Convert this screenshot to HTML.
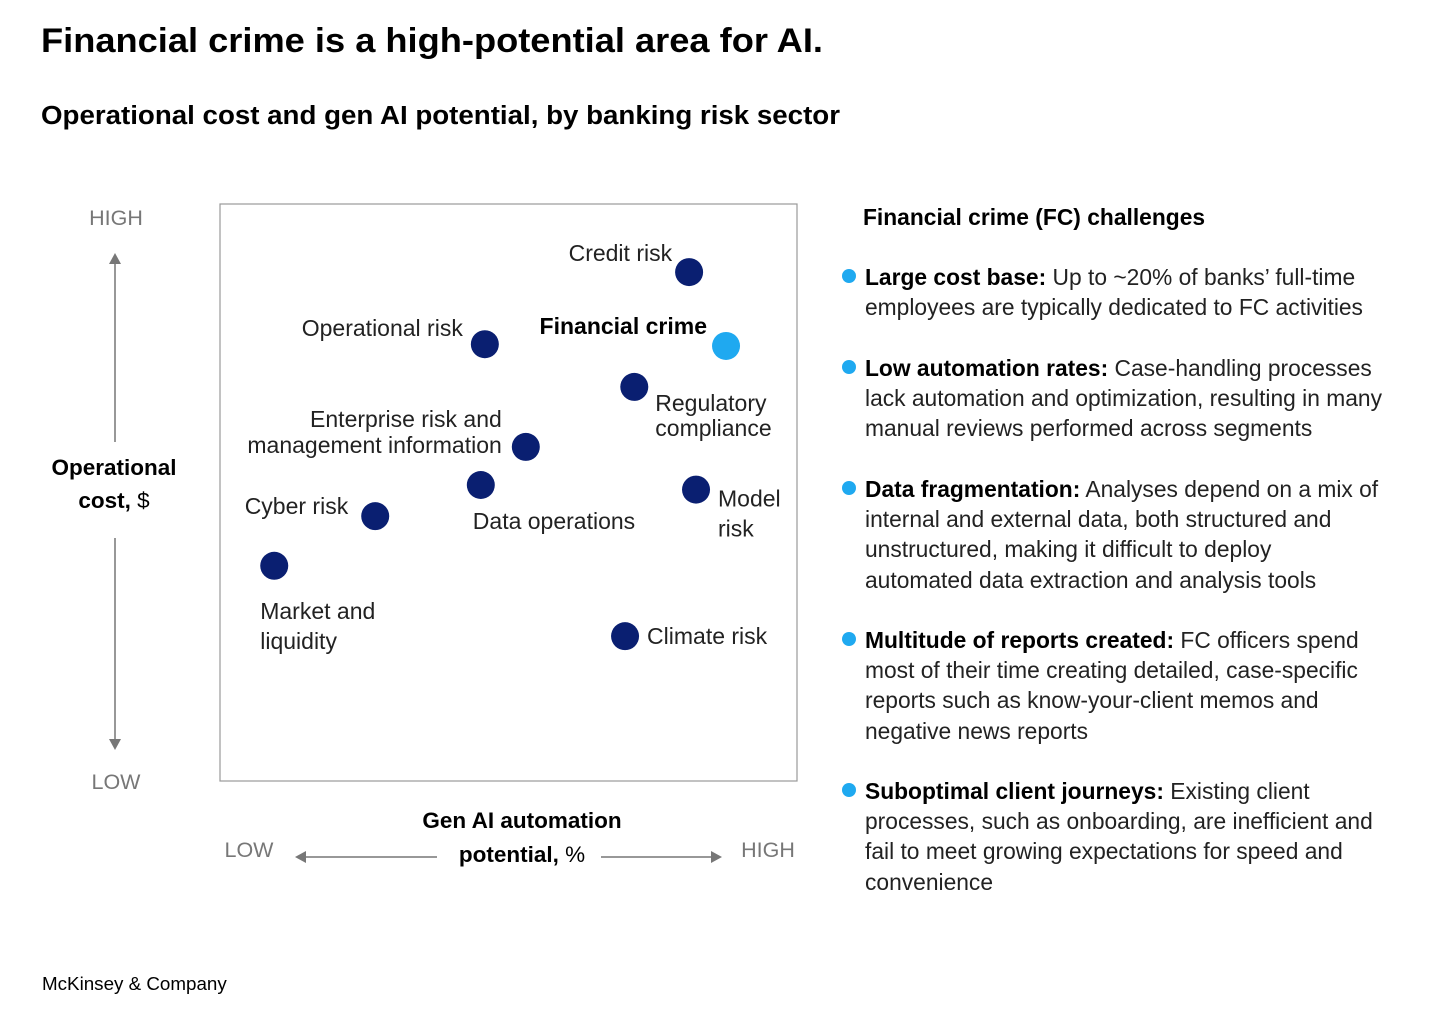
<!DOCTYPE html>
<html><head><meta charset="utf-8"><style>
html,body{margin:0;padding:0;background:#fff;}
svg{display:block;font-family:"Liberation Sans",sans-serif;}
</style></head><body>
<svg id="chart" width="1456" height="1019" viewBox="0 0 1456 1019">
<text x="41" y="52" font-size="34" font-weight="bold" fill="#000" textLength="782" lengthAdjust="spacingAndGlyphs">Financial crime is a high-potential area for AI.</text>
<text x="41" y="124" font-size="25.5" font-weight="bold" fill="#000" textLength="799" lengthAdjust="spacingAndGlyphs">Operational cost and gen AI potential, by banking risk sector</text>
<rect x="220" y="204" width="577" height="577" fill="none" stroke="#999" stroke-width="1.2"/>
<g id="points"></g>
<g fill="#777" font-size="21.5">
<text x="116" y="225" text-anchor="middle">HIGH</text>
<text x="116" y="789" text-anchor="middle">LOW</text>
<line x1="115" y1="442" x2="115" y2="262" stroke="#777" stroke-width="1.5"/>
<polygon points="109,264 121,264 115,253" fill="#777"/>
<line x1="115" y1="538" x2="115" y2="740" stroke="#777" stroke-width="1.5"/>
<polygon points="109,739 121,739 115,750" fill="#777"/>
</g>
<text x="114" y="475" text-anchor="middle" font-size="22.5" font-weight="bold" fill="#000">Operational</text>
<text x="114" y="508" text-anchor="middle" font-size="22.5" fill="#000"><tspan font-weight="bold">cost,</tspan> $</text>
<g fill="#777" font-size="21.5">
<text x="249" y="857" text-anchor="middle">LOW</text>
<text x="768" y="857" text-anchor="middle">HIGH</text>
<line x1="437" y1="857" x2="305" y2="857" stroke="#777" stroke-width="1.5"/>
<polygon points="306,851 306,863 295,857" fill="#777"/>
<line x1="601" y1="857" x2="712" y2="857" stroke="#777" stroke-width="1.5"/>
<polygon points="711,851 711,863 722,857" fill="#777"/>
</g>
<text x="522" y="828" text-anchor="middle" font-size="22.5" font-weight="bold" fill="#000">Gen AI automation</text>
<text x="522" y="862" text-anchor="middle" font-size="22.5" fill="#000"><tspan font-weight="bold">potential,</tspan> %</text>

<g font-size="22.8" fill="#222">
<text x="863" y="225" font-weight="bold" fill="#000">Financial crime (FC) challenges</text>
<g>
<circle cx="849" cy="276" r="7" fill="#1fa9f0"/>
<text x="865" y="285"><tspan font-weight="bold" fill="#000">Large cost base:</tspan> Up to ~20% of banks’ full-time</text>
<text x="865" y="315">employees are typically dedicated to FC activities</text>
</g>
<g>
<circle cx="849" cy="367" r="7" fill="#1fa9f0"/>
<text x="865" y="376"><tspan font-weight="bold" fill="#000">Low automation rates:</tspan> Case-handling processes</text>
<text x="865" y="406">lack automation and optimization, resulting in many</text>
<text x="865" y="436">manual reviews performed across segments</text>
</g>
<g>
<circle cx="849" cy="488" r="7" fill="#1fa9f0"/>
<text x="865" y="497"><tspan font-weight="bold" fill="#000">Data fragmentation:</tspan> Analyses depend on a mix of</text>
<text x="865" y="527">internal and external data, both structured and</text>
<text x="865" y="557">unstructured, making it difficult to deploy</text>
<text x="865" y="588">automated data extraction and analysis tools</text>
</g>
<g>
<circle cx="849" cy="639" r="7" fill="#1fa9f0"/>
<text x="865" y="648"><tspan font-weight="bold" fill="#000">Multitude of reports created:</tspan> FC officers spend</text>
<text x="865" y="678">most of their time creating detailed, case-specific</text>
<text x="865" y="708">reports such as know-your-client memos and</text>
<text x="865" y="739">negative news reports</text>
</g>
<g>
<circle cx="849" cy="790" r="7" fill="#1fa9f0"/>
<text x="865" y="799"><tspan font-weight="bold" fill="#000">Suboptimal client journeys:</tspan> Existing client</text>
<text x="865" y="829">processes, such as onboarding, are inefficient and</text>
<text x="865" y="859">fail to meet growing expectations for speed and</text>
<text x="865" y="890">convenience</text>
</g>
</g>
<text x="42" y="990" font-size="18.8" fill="#000">McKinsey &amp; Company</text>
</svg>
<script>
const categories = ["Credit risk","Operational risk","Financial crime","Regulatory compliance","Enterprise risk and management information","Data operations","Model risk","Cyber risk","Market and liquidity","Climate risk"];
const genAIPotential = [81.3,45.9,87.7,71.8,53.0,45.2,82.5,26.9,9.4,70.2];
const operationalCost = [88.2,75.7,75.4,68.3,57.9,51.3,50.5,45.9,37.3,25.1];
const labelLines = [["Credit risk"],["Operational risk"],["Financial crime"],["Regulatory","compliance"],["Enterprise risk and","management information"],["Data operations"],["Model","risk"],["Cyber risk"],["Market and","liquidity"],["Climate risk"]];
const highlighted = [false,false,true,false,false,false,false,false,false,false];

const X0=220, Y0=781, W=577, H=577;
function xScale(v){return X0+v/100*W;}
function yScale(v){return Y0-v/100*H;}
const place=[[-17,-19,"end",0],[-22,-16,"end",0],[-19,-20,"end",0],[21,16,"start",25],[-24,-28,"end",26],[-8,36,"start",0],[22,9,"start",30],[-27,-10,"end",0],[-14,45,"start",30],[22,0,"start",0]];
const NS="http://www.w3.org/2000/svg";
const g=document.getElementById("points");
categories.forEach((c,i)=>{
  const cx=xScale(genAIPotential[i]), cy=yScale(operationalCost[i]);
  const dot=document.createElementNS(NS,"circle");
  dot.setAttribute("cx",cx);dot.setAttribute("cy",cy);dot.setAttribute("r",14);
  dot.setAttribute("fill",highlighted[i]?"#1fa9f0":"#0a1f71");
  
  
  g.appendChild(dot);
  const p=place[i];
  labelLines[i].forEach((ln,k)=>{
    const t=document.createElementNS(NS,"text");
    t.setAttribute("x",cx+p[0]);
    t.setAttribute("y",cy+p[1]+k*p[3]+8);
    t.setAttribute("text-anchor",p[2]);
    t.setAttribute("font-size","23");
    t.setAttribute("fill",highlighted[i]?"#000":"#222");
    if(highlighted[i]) t.setAttribute("font-weight","bold");
    t.textContent=ln;
    
    
    g.appendChild(t);
  });
});
</script>
</body></html>
